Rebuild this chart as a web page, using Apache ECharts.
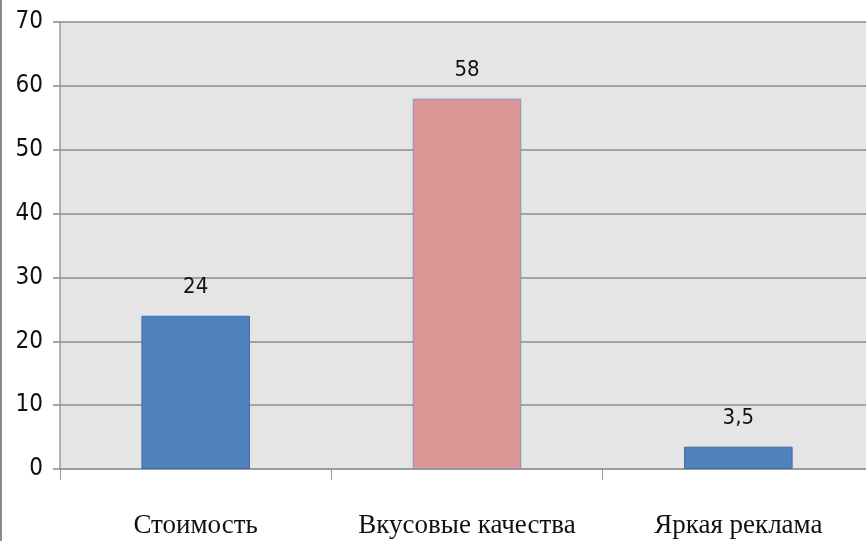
<!DOCTYPE html>
<html><head><meta charset="utf-8">
<script src="https://cdn.jsdelivr.net/npm/echarts@6/dist/echarts.min.js"></script>
<style>html,body{margin:0;padding:0;background:#fff;overflow:hidden}#c{width:880px;height:541px}</style>
</head><body><div id="c"></div>
<script>
const categories = ['Стоимость', 'Вкусовые качества', 'Яркая реклама'];
const values = [24, 58, 3.5];
const barColors = ['#4f81bd', '#d99694', '#4f81bd'];
const borderColors = ['#3f6ea6', '#8a93b4', '#3f6ea6'];
const yTicks = [0, 10, 20, 30, 40, 50, 60, 70];

const chart = echarts.init(document.getElementById('c'));
const narrow = '"Liberation Sans Narrow","DejaVu Sans Condensed","Arial Narrow",sans-serif';
chart.setOption({
  animation: false,
  backgroundColor: '#ffffff',
  graphic: [{type: 'rect', shape: {x: 0, y: 0, width: 2, height: 541}, style: {fill: '#8a8a8a'}}],
  grid: {left: 60, top: 22, width: 814, height: 447, show: true, backgroundColor: '#e5e5e5', borderWidth: 0},
  xAxis: {
    type: 'category', data: categories,
    axisLine: {lineStyle: {color: '#9a9a9a', width: 1.5}},
    axisTick: {show: true, length: 11, interval: 0, lineStyle: {color: '#9a9a9a'}},
    axisLabel: {margin: 43, fontFamily: '"Liberation Serif","Times New Roman",serif', fontSize: 27, color: '#111', interval: 0}
  },
  yAxis: {
    type: 'value', min: yTicks[0], max: yTicks[yTicks.length - 1], interval: 10,
    axisLine: {show: true, lineStyle: {color: '#9a9a9a', width: 1.5}},
    axisTick: {show: true, length: 7, lineStyle: {color: '#8c8c8c', width: 1.5}},
    axisLabel: {margin: 17, fontFamily: narrow, fontSize: 24, color: '#111'},
    splitLine: {lineStyle: {color: '#8c8c8c', width: 1.5}}
  },
  series: [{
    type: 'bar', barWidth: '40%',
    data: values.map((v, i) => ({value: v, itemStyle: {color: barColors[i], borderColor: borderColors[i], borderWidth: 1}})),
    label: {show: true, position: 'top', distance: 17, fontFamily: narrow, fontSize: 22, color: '#111',
      formatter: p => String(p.value).replace('.', ',')}
  }]
});
</script></body></html>
